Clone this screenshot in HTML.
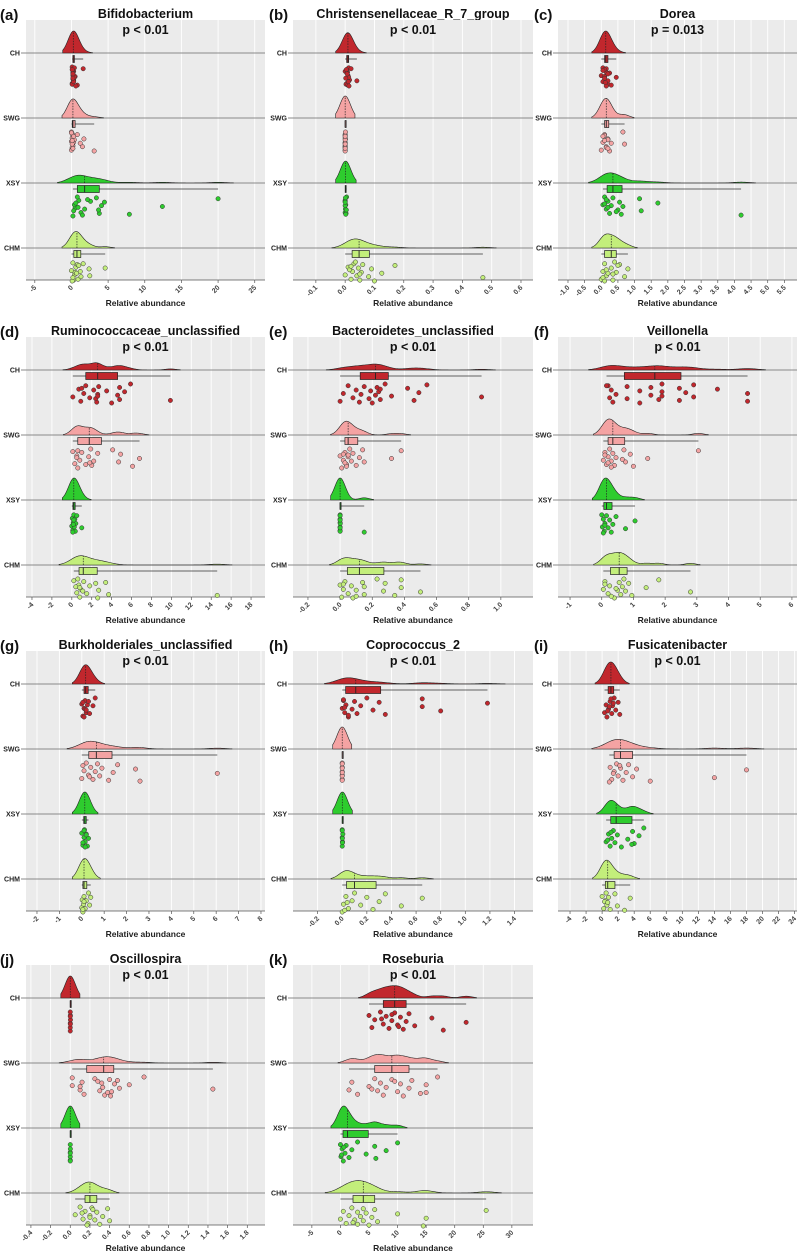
<!DOCTYPE html>
<html><head><meta charset="utf-8"><style>
body{margin:0;background:#fff;}
svg{display:block;font-family:"Liberation Sans",sans-serif;}
</style></head><body>
<svg id="fig" width="800" height="1255" viewBox="0 0 800 1255" xmlns="http://www.w3.org/2000/svg"></svg>
<script>
// ---- data ----
const groups = ["CH","SWG","XSY","CHM"];
const titles = ["Bifidobacterium","Christensenellaceae_R_7_group","Dorea","Ruminococcaceae_unclassified","Bacteroidetes_unclassified","Veillonella","Burkholderiales_unclassified","Coprococcus_2","Fusicatenibacter","Oscillospira","Roseburia"];
const letters = ["(a)","(b)","(c)","(d)","(e)","(f)","(g)","(h)","(i)","(j)","(k)"];
const pvalues = ["p < 0.01","p < 0.01","p = 0.013","p < 0.01","p < 0.01","p < 0.01","p < 0.01","p < 0.01","p < 0.01","p < 0.01","p < 0.01"];
const domains = [[-6.2,26.4],[-0.178,0.641],[-1.3,5.88],[-4.6,19.4],[-0.293,1.2],[-1.38,6.16],[-2.49,8.18],[-0.40,1.55],[-5.5,24.3],[-0.45,1.98],[-8.3,33.7]];
const tickStart = [-5,-0.1,-1,-4,-0.2,-1,-2,-0.2,-4,-0.4,-5];
const tickStep  = [5,0.1,0.5,2,0.2,1,1,0.2,2,0.2,5];
const tickCount = [7,8,14,12,7,8,11,9,15,12,8];
const tickDigits= [0,1,1,0,1,0,0,1,0,1,0];

const vA_CH=[0.1,0.2,0.3,0.1,0.2,0.4,0.3,0.2,0.1,0.5,1.6,0.3,0.2,0.8,0.4,0.1,0.3,0.2,0.6,0.2];
const vA_SWG=[0,0.1,0.2,0.1,0,0.3,0.8,1.5,1.7,3.1,1.2,0.2,0.1,0.4,0,0.1,0.3,0.2,0.1,0];
const vA_XSY=[0.2,0.5,1.0,1.3,0.4,0.8,1.8,2.6,3.8,4.1,3.4,3.7,4.5,7.9,12.4,20.0,0.3,0.6,1.5,0.9,2.2];
const vA_CHM=[0,0.2,0.4,0.6,0.9,1.2,1.6,2.5,4.6,0.3,0.5,0.8,1.3,2.4,0.1,0.7,1.0,0.2];
const vB_CH=[0.0,0.005,0.01,0.012,0.015,0.008,0.003,0.01,0.02,0.04,0.006,0.009,0.012,0.004,0.011,0.007,0.013,0.002];
const vB_SWG=[0,0,0,0,0,0,0.001,0,0,0,0,0,0.001,0,0,0];
const vB_XSY=[0,0,0.002,0.005,0.001,0,0.003,0,0.001,0.004,0,0.002];
const vB_CHM=[0,0.01,0.02,0.025,0.03,0.04,0.045,0.05,0.055,0.06,0.08,0.09,0.1,0.125,0.17,0.47,0.015,0.035,0.05,0.02];
const vC_CH=[0,0.05,0.1,0.15,0.2,0.1,0.15,0.2,0.25,0.3,0.45,0.1,0.05,0.2,0.15,0.1,0.05,0.12];
const vC_SWG=[0,0.05,0.1,0.15,0.2,0.25,0.3,0.1,0.15,0.2,0.65,0.7,0.05,0.2,0.1];
const vC_XSY=[0.05,0.1,0.15,0.2,0.25,0.3,0.35,0.5,0.55,0.6,0.65,1.15,1.2,1.7,4.2,0.2,0.15,0.45,0.1];
const vC_CHM=[0,0.05,0.1,0.15,0.3,0.35,0.45,0.55,0.7,0.8,0.1,0.2,0.5,0.05,0.15,0.4,0.35];
const vD_CH=[0.1,0.7,0.9,1.2,1.4,1.8,2.2,2.5,2.6,2.7,2.4,3.5,4.0,4.6,4.8,4.8,5.3,5.9,2.6,1.0,9.9];
const vD_SWG=[0.1,0.3,0.5,0.6,0.8,1.0,1.4,1.7,1.9,2.2,2.6,2.0,0.5,4.1,4.7,4.9,6.1,6.8,0.6,1.8];
const vD_XSY=[0,0.05,0.1,0.15,0.2,0.25,0.3,0.35,0.4,0.5,1.0,0.2,0.1,0.15];
const vD_CHM=[0.2,0.5,0.7,0.8,0.9,1.2,1.5,1.8,2.6,2.7,3.4,3.7,0.4,0.6,1.1,2.4,14.6,0.8];
const vE_CH=[0,0.02,0.05,0.08,0.1,0.12,0.13,0.15,0.18,0.19,0.2,0.22,0.23,0.25,0.24,0.28,0.32,0.42,0.46,0.49,0.54,0.88,0.25];
const vE_SWG=[0,0.01,0.02,0.03,0.04,0.05,0.06,0.07,0.08,0.1,0.12,0.14,0.15,0.02,0.04,0.32,0.38,0.03,0.05];
const vE_XSY=[0,0,0,0,0,0,0.001,0,0,0,0.15];
const vE_CHM=[0,0.01,0.02,0.03,0.05,0.07,0.08,0.1,0.14,0.15,0.15,0.23,0.27,0.28,0.34,0.38,0.38,0.5,0.02,0.1];
const vF_CH=[0.2,0.25,0.3,0.35,0.45,0.8,0.8,1.2,1.2,1.55,1.55,1.8,1.9,1.9,1.9,2.45,2.45,2.65,2.9,2.9,3.65,4.6,4.6,0.15];
const vF_SWG=[0.05,0.1,0.15,0.2,0.25,0.3,0.35,0.4,0.45,0.7,0.75,0.9,1.0,1.45,3.05,0.2,0.1,0.3,0.65];
const vF_XSY=[0,0.02,0.05,0.08,0.1,0.15,0.2,0.25,0.3,0.35,0.45,0.75,1.05,0.05,0.1];
const vF_CHM=[0.05,0.1,0.2,0.25,0.4,0.5,0.55,0.6,0.65,0.7,0.75,0.85,0.95,1.4,1.8,2.8,0.1,0.3,0.45];
const vG_CH=[0,0.05,0.1,0.15,0.2,0.25,0.1,0.15,0.3,0.35,0.5,0.6,0.2,0.05];
const vG_SWG=[0,0.1,0.2,0.3,0.4,0.5,0.6,0.7,0.8,0.9,1.2,1.4,1.6,0.35,2.4,2.6,6.05,0.05];
const vG_XSY=[0,0.05,0.1,0.12,0.15,0.2,0.25,0.3,0.1,0.05,0.2,0.15];
const vG_CHM=[0,0.02,0.05,0.08,0.1,0.15,0.2,0.3,0.35,0.4,0.05,0.1];
const vH_CH=[0,0.01,0.02,0.03,0.05,0.08,0.1,0.12,0.15,0.2,0.25,0.3,0.35,0.65,0.65,0.8,1.18,0.05,0.02,0.01];
const vH_SWG=[0,0,0,0,0,0,0,0,0,0];
const vH_XSY=[0,0,0.002,0.005,0,0.001,0,0.002];
const vH_CHM=[0,0.01,0.03,0.05,0.08,0.1,0.15,0.2,0.25,0.3,0.35,0.48,0.65,0.02,0.04];
const vI_CH=[0.3,0.5,0.6,0.8,1.0,1.2,1.3,1.5,1.7,2.0,2.2,0.9,1.1,0.7,1.4];
const vI_SWG=[1.0,1.2,1.5,1.8,2.0,2.3,2.6,3.0,3.3,3.8,4.3,6.0,1.4,2.2,14.0,18.0,0.9];
const vI_XSY=[0.5,0.8,1.0,1.2,1.4,1.6,1.9,2.4,3.2,3.8,4.0,4.6,5.2,0.7,1.1,3.7];
const vI_CHM=[0,0.2,0.4,0.5,0.6,0.8,1.0,0.3,1.6,1.9,3.5,2.8,0.7];
const vJ_CH=[0,0,0.001,0,0.002,0,0.001,0];
const vJ_SWG=[0.02,0.02,0.1,0.12,0.14,0.1,0.25,0.3,0.32,0.35,0.33,0.4,0.42,0.45,0.41,0.5,0.48,0.38,0.6,0.75,1.45,0.28];
const vJ_XSY=[0,0,0,0,0.001,0,0];
const vJ_CHM=[0.05,0.1,0.13,0.15,0.18,0.2,0.22,0.25,0.27,0.3,0.33,0.38,0.4,0.12,0.17,0.2,0.23];
const vK_CH=[5,5.5,6,7,7.5,8,8.5,9,9.5,10,10.5,11,11.5,12,13,16,18,22,9,10.2,7.2];
const vK_SWG=[1.5,2,3,5,6,6.5,7,7.5,8,9,10,10.5,11,12,12.5,15,15,17,5.5,9.5,14];
const vK_XSY=[0,0.1,0.3,0.5,0.8,1,1.5,2,3,4.5,6,6.2,8,10,0.2,0.6];
const vK_CHM=[0,0.5,1,1.5,2,2.5,3,3,3.5,4,4,4.5,5,5.5,6,6.5,10,14.5,15,25.5,2.2];

const panelValues=[[vA_CH,vA_SWG,vA_XSY,vA_CHM],[vB_CH,vB_SWG,vB_XSY,vB_CHM],[vC_CH,vC_SWG,vC_XSY,vC_CHM],[vD_CH,vD_SWG,vD_XSY,vD_CHM],[vE_CH,vE_SWG,vE_XSY,vE_CHM],[vF_CH,vF_SWG,vF_XSY,vF_CHM],[vG_CH,vG_SWG,vG_XSY,vG_CHM],[vH_CH,vH_SWG,vH_XSY,vH_CHM],[vI_CH,vI_SWG,vI_XSY,vI_CHM],[vJ_CH,vJ_SWG,vJ_XSY,vJ_CHM],[vK_CH,vK_SWG,vK_XSY,vK_CHM]];

// ---- layout / style ----
const fills=["#c1272d","#f4a3a3","#2ecc2e","#c3ee7b"];
const colX=[[26,265],[293,533],[558,797]];
const letterX=[0,269,534];
const rowBase=[53,370,684,998];
const GAP=65;
const NS="http://www.w3.org/2000/svg";
const svg=document.getElementById('fig');
function mk(tag,attrs,parent){const e=document.createElementNS(NS,tag);for(const k in attrs)e.setAttribute(k,attrs[k]);(parent||svg).appendChild(e);return e;}
function quant(s,p){const i=(s.length-1)*p;const lo=Math.floor(i),hi=Math.ceil(i);return s[lo]+(s[hi]-s[lo])*(i-lo);}

panelValues.forEach((vals,p)=>{
  const col=p%3,row=Math.floor(p/3);
  const [x0,x1]=colX[col];const yb=rowBase[row];
  const [d0,d1]=domains[p];
  const sx=v=>x0+(v-d0)/(d1-d0)*(x1-x0);
  const top=yb-33,bot=yb+3*GAP+32;
  const g=mk('g',{});
  
  
  const lt=mk('text',{x:letterX[col],y:yb-33,'font-size':15,'font-weight':'bold',fill:'#111'},g);lt.textContent=letters[p];
  
  const tt=mk('text',{x:(x0+x1)/2,y:yb-35,'font-size':12.5,'font-weight':'bold','text-anchor':'middle',fill:'#111'},g);tt.textContent=titles[p];
  
  const bg=mk('rect',{x:x0,y:top,width:x1-x0,height:bot-top,fill:'#ebebeb'},g);
  
  for(let t=0;t<tickCount[p];t++){
    const v=tickStart[p]+t*tickStep[p];const x=sx(v);
    const gl=mk('line',{x1:x,x2:x,y1:top,y2:bot,stroke:'#fff','stroke-width':0.9},g);
    
    mk('line',{x1:x,x2:x,y1:bot,y2:bot+3,stroke:'#555','stroke-width':0.7},g);
    const tl=mk('text',{x:x+2,y:bot+8,'font-size':7,'font-weight':'bold',fill:'#444','text-anchor':'end',transform:`rotate(-45 ${x+2} ${bot+8})`},g);
    tl.textContent=v.toFixed(tickDigits[p]);
    
  }
  mk('line',{x1:x0,x2:x1,y1:bot,y2:bot,stroke:'#555','stroke-width':0.8},g);
  const xl=mk('text',{x:(x0+x1)/2,y:bot+26,'font-size':8.5,'font-weight':'bold','text-anchor':'middle',fill:'#222'},g);xl.textContent='Relative abundance';
  
  const W=d1-d0;
  const dens=vals.map(arr=>{
    const n=arr.length;const m=arr.reduce((a,b)=>a+b,0)/n;
    const sd=Math.sqrt(arr.reduce((a,b)=>a+(b-m)*(b-m),0)/Math.max(1,n-1));
    const bw=Math.max(0.5*0.9*sd*Math.pow(n,-0.2),0.022*W);
    const lo=Math.min(...arr)-1.8*bw,hi=Math.max(...arr)+1.8*bw;
    const pts=[];
    for(let i=0;i<=160;i++){const v=lo+(hi-lo)*i/160;let s=0;arr.forEach(a=>{const z=(v-a)/bw;s+=Math.exp(-0.5*z*z);});pts.push([v,s/(n*bw)]);}
    return {pts,bw};
  });
  let maxD=0;dens.forEach(d=>d.pts.forEach(q=>{if(q[1]>maxD)maxD=q[1];}));
  const k=22/maxD;
  vals.forEach((arr,gi)=>{
    const y=yb+gi*GAP;
    const gl=mk('g',{},g);
    
    const bl=mk('line',{x1:x0-5,x2:x1,y1:y,y2:y,stroke:'#8a8a8a','stroke-width':1},gl);
    
    const lab=mk('text',{x:x0-6,y:y+2.5,'font-size':7,'font-weight':'bold','text-anchor':'end',fill:'#222'},gl);lab.textContent=groups[gi];
    
    const pts=dens[gi].pts;
    let d=`M${sx(pts[0][0]).toFixed(2)},${y}`;
    pts.forEach(q=>{d+=`L${sx(q[0]).toFixed(2)},${(y-q[1]*k).toFixed(2)}`;});
    d+=`L${sx(pts[pts.length-1][0]).toFixed(2)},${y}Z`;
    const dp=mk('path',{d,fill:fills[gi],stroke:'#222','stroke-width':0.6},gl);
    
    const s=[...arr].sort((a,b)=>a-b);
    const q1=quant(s,0.25),md=quant(s,0.5),q3=quant(s,0.75);
    let dm=0;const bw=dens[gi].bw;arr.forEach(a=>{const z=(md-a)/bw;dm+=Math.exp(-0.5*z*z);});dm=dm/(arr.length*bw);
    mk('line',{x1:sx(md),x2:sx(md),y1:y,y2:y-dm*k,stroke:'#222','stroke-width':0.7,'stroke-dasharray':'1.5,1.2'},gl);
    const wy=y+6;
    const wl=mk('line',{x1:sx(s[0]),x2:sx(s[s.length-1]),y1:wy,y2:wy,stroke:'#333','stroke-width':0.8},gl);
    
    const bx=mk('rect',{x:sx(q1),y:wy-3.5,width:Math.max(1,sx(q3)-sx(q1)),height:7,fill:fills[gi],stroke:'#222','stroke-width':0.7},gl);
    
    mk('line',{x1:sx(md),x2:sx(md),y1:wy-3.5,y2:wy+3.5,stroke:'#222','stroke-width':0.9},gl);
    arr.forEach((v,i)=>{
      const jy=y+14+((i*37+gi*11+p*5)%23)/22*19;
      const c=mk('circle',{cx:sx(v),cy:jy,r:2.2,fill:fills[gi],stroke:'#333','stroke-width':0.5},gl);
      
      
    });
  });
  const pt=mk('text',{x:(x0+x1)/2,y:yb-19,'font-size':12.5,'font-weight':'bold','text-anchor':'middle',fill:'#111'},g);pt.textContent=pvalues[p];
  
});
</script>
</body></html>
